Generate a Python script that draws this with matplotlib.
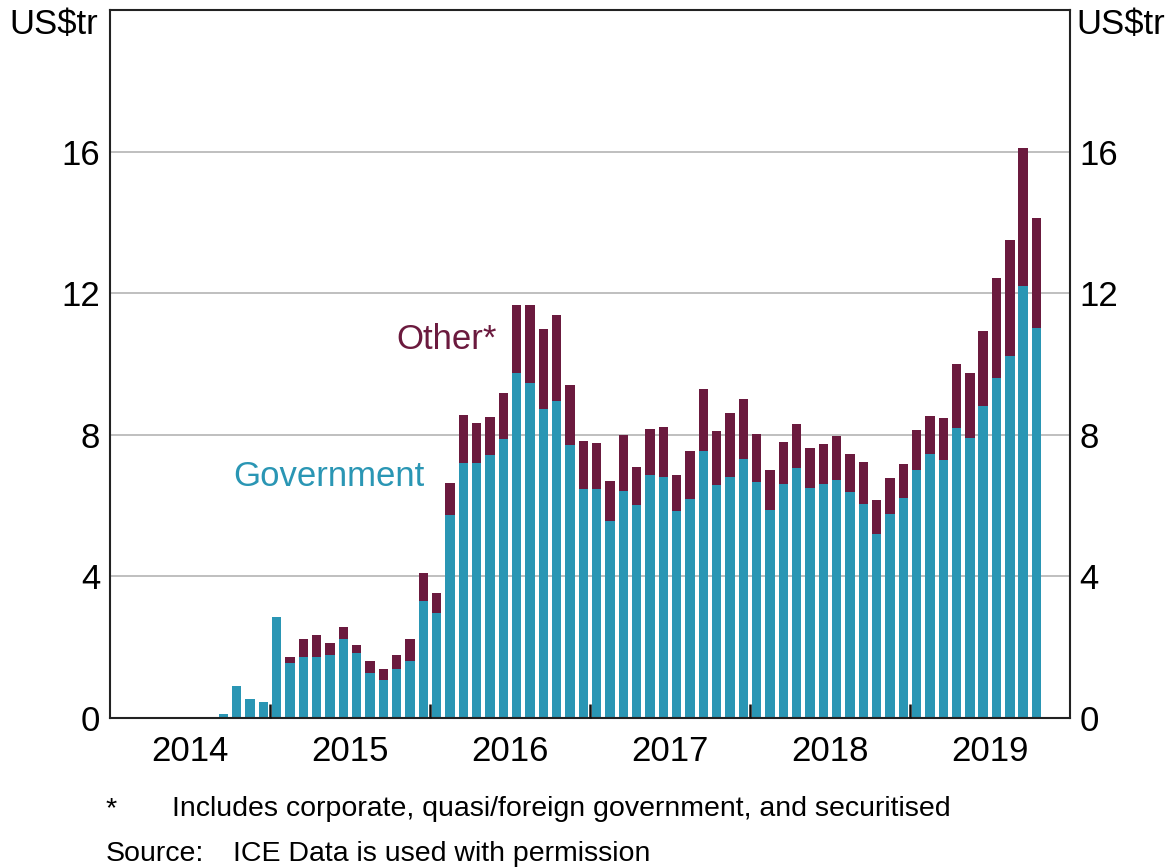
import numpy as np
import pandas as pd
import matplotlib
matplotlib.use('Agg')
import matplotlib.pyplot as plt

plt.rcParams['font.family'] = ['Liberation Sans', 'DejaVu Sans']

GOV_COLOR = '#2A96B4'
OTHER_COLOR = '#6B1A3E'

# monthly, Sep 2014 to Oct 2019 (US$ trillion)
months = pd.date_range('2014-09-01', '2019-10-01', freq='MS')

government = [
    0.12, 0.91, 0.52, 0.46,                                                # 2014
    2.85, 1.54, 1.72, 1.72, 1.77, 2.22, 1.83, 1.26, 1.08, 1.38, 1.60, 3.30,  # 2015
    2.96, 5.73, 7.20, 7.20, 7.43, 7.88, 9.74, 9.46, 8.73, 8.94, 7.71, 6.46,  # 2016
    6.46, 5.56, 6.41, 6.01, 6.86, 6.80, 5.84, 6.18, 7.54, 6.58, 6.80, 7.31,  # 2017
    6.67, 5.88, 6.61, 7.06, 6.50, 6.61, 6.72, 6.38, 6.04, 5.19, 5.76, 6.21,  # 2018
    7.01, 7.46, 7.29, 8.20, 7.91, 8.82, 9.61, 10.23, 12.20, 11.02,         # 2019
]
total = [
    0.12, 0.91, 0.52, 0.46,
    2.85, 1.72, 2.22, 2.33, 2.11, 2.56, 2.05, 1.60, 1.38, 1.77, 2.22, 4.09,
    3.52, 6.63, 8.55, 8.33, 8.50, 9.18, 11.67, 11.67, 10.99, 11.38, 9.40, 7.82,
    7.77, 6.69, 7.99, 7.09, 8.16, 8.22, 6.86, 7.54, 9.29, 8.10, 8.61, 9.01,
    8.02, 7.01, 7.80, 8.31, 7.63, 7.74, 7.97, 7.46, 7.23, 6.16, 6.78, 7.18,
    8.14, 8.54, 8.47, 10.01, 9.73, 10.92, 12.43, 13.50, 16.10, 14.12,
]
other = np.array(total) - np.array(government)

years = [2014, 2015, 2016, 2017, 2018, 2019]
yticks = [0, 4, 8, 12, 16]

# x in months since Jan 2014, bars centred in their month
x = (months.year - 2014) * 12 + (months.month - 1) + 0.5

fig = plt.figure(figsize=(11.7, 8.68), dpi=100)
ax = fig.add_axes([0.094, 0.173, 0.8205, 0.8155])

ax.bar(x, government, width=0.72, color=GOV_COLOR, linewidth=0, zorder=2)
ax.bar(x, other, bottom=government, width=0.72, color=OTHER_COLOR, linewidth=0, zorder=2)

ax.set_xlim(0, 72)
ax.set_ylim(0, 20)
ax.set_yticks(yticks)
ax.yaxis.grid(True, color='#b4b4b4', linewidth=1.2, zorder=0)
ax.tick_params(axis='y', length=0, pad=7, labelsize=25, right=True, labelright=True)

# year boundaries as ticks, labels in the middle of each year
ax.set_xticks([12 * i for i in range(1, 6)])
ax.set_xticklabels([])
ax.set_xticks([12 * i + 6 for i in range(6)], minor=True)
ax.set_xticklabels([str(y) for y in years], minor=True)
ax.tick_params(axis='x', which='major', direction='in', length=10, width=1.8, color='#111111')
ax.tick_params(axis='x', which='minor', length=0, pad=12, labelsize=25)
ax.xaxis.set_zorder(3)

for s in ax.spines.values():
    s.set_linewidth(1.5)
    s.set_color('#222222')

fig.text(0.008, 0.972, 'US$tr', fontsize=25, ha='left', va='center')
fig.text(0.996, 0.972, 'US$tr', fontsize=25, ha='right', va='center')

ax.text(29.0, 10.69, 'Other*', color=OTHER_COLOR, fontsize=25, ha='right', va='center')
ax.text(23.6, 6.81, 'Government', color=GOV_COLOR, fontsize=25, ha='right', va='center')

fig.text(0.09, 0.068, '*', fontsize=20.5, ha='left', va='center')
fig.text(0.147, 0.068, 'Includes corporate, quasi/foreign government, and securitised',
         fontsize=20.5, ha='left', va='center')
fig.text(0.09, 0.016, 'Source:', fontsize=20.5, ha='left', va='center')
fig.text(0.199, 0.016, 'ICE Data is used with permission', fontsize=20.5, ha='left', va='center')

fig.savefig('out.png', dpi=100)
